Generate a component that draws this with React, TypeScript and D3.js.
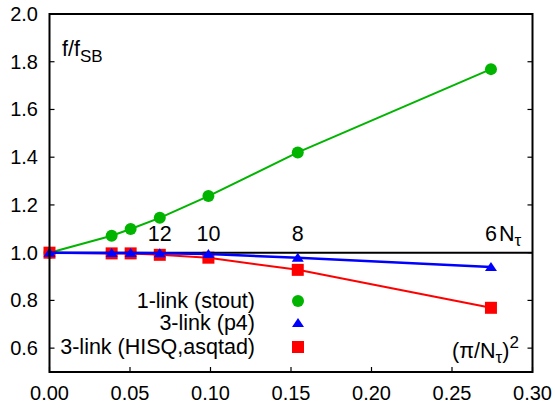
import React from "react";
import * as d3 from "d3";

const xs = [0, 0.0386, 0.0504, 0.0685, 0.0987, 0.1542, 0.2742];
const stout = [1.0, 1.071, 1.099, 1.146, 1.237, 1.42, 1.769];
const p4 = [1.0, 0.999, 0.999, 0.998, 0.994, 0.979, 0.94];
const hisq = [1.0, 0.997, 0.997, 0.991, 0.979, 0.928, 0.769];
const ntLabels = ["12", "10", "8", "6"];
const ntX = [0.0685, 0.0987, 0.1542, 0.2742];
const xTicks = [0, 0.05, 0.1, 0.15, 0.2, 0.25, 0.3];
const yTicks = [0.6, 0.8, 1.0, 1.2, 1.4, 1.6, 1.8, 2.0];
const legendLabels = ["1-link (stout)", "3-link (p4)", "3-link (HISQ,asqtad)"];

const W = 555, H = 405;
const L = 49.5, R = 532.5, T = 14, B = 372;
const FONT = "Liberation Sans, Arial, Helvetica, sans-serif";

export default function App() {
  const x = d3.scaleLinear().domain([0, 0.3]).range([L, R]);
  const y = d3.scaleLinear().domain([0.5, 2.0]).range([B, T]);
  const line = d3.line<number>().x((_, i) => x(xs[i])).y((d) => y(d));
  const GREEN = "#00b400", BLUE = "#0000ff", RED = "#ff0000";
  const tri = (cx: number, cy: number) =>
    `M${cx - 6},${cy + 4} L${cx + 6},${cy + 4} L${cx},${cy - 5} Z`;
  const legY = [301, 323, 347];
  const legX = 298;
  return (
    <svg width={W} height={H} style={{ position: "absolute", left: 0, top: 0 }} fontFamily={FONT}>
      <rect x={0} y={0} width={W} height={H} fill="#fff" />
      {/* ticks */}
      {xTicks.map((t) => (
        <g key={"xt" + t}>
          <line x1={x(t)} x2={x(t)} y1={B} y2={B - 5} stroke="#000" strokeWidth={1.2} />
          <text x={x(t)} y={400} fontSize={20} textAnchor="middle">{t.toFixed(2)}</text>
        </g>
      ))}
      {yTicks.map((t) => (
        <g key={"yt" + t}>
          <line x1={L} x2={L + 5} y1={y(t)} y2={y(t)} stroke="#000" strokeWidth={1.2} />
          <line x1={R} x2={R - 5} y1={y(t)} y2={y(t)} stroke="#000" strokeWidth={1.2} />
          <text x={38} y={y(t) + 7} fontSize={20} textAnchor="end">{t.toFixed(1)}</text>
        </g>
      ))}
      {/* green */}
      <path d={line(stout) || ""} fill="none" stroke={GREEN} strokeWidth={2} />
      {stout.map((v, i) => (
        <circle key={"g" + i} cx={x(xs[i])} cy={y(v)} r={6} fill={GREEN} />
      ))}
      {/* red */}
      <path d={line(hisq) || ""} fill="none" stroke={RED} strokeWidth={2} />
      {hisq.map((v, i) => (
        <rect key={"r" + i} x={x(xs[i]) - 6} y={y(v) - 6} width={12} height={12} fill={RED} />
      ))}
      {/* black reference line */}
      <line x1={L} x2={R} y1={y(1)} y2={y(1)} stroke="#000" strokeWidth={2} />
      {/* blue */}
      <path d={line(p4) || ""} fill="none" stroke={BLUE} strokeWidth={2.5} />
      {p4.map((v, i) => (
        <path key={"b" + i} d={tri(x(xs[i]), y(v))} fill={BLUE} />
      ))}
      {/* N_tau labels */}
      {ntLabels.map((s, i) => (
        <text key={"n" + i} x={x(ntX[i])} y={241} fontSize={21.5} textAnchor="middle">{s}</text>
      ))}
      <text x={499} y={241} fontSize={21.5}>
        N<tspan fontSize={17} dy={5}>τ</tspan>
      </text>
      {/* legend */}
      {legendLabels.map((s, i) => (
        <text key={"l" + i} x={255} y={legY[i] + 7} fontSize={21.5} textAnchor="end">{s}</text>
      ))}
      <circle cx={legX} cy={legY[0]} r={6} fill={GREEN} />
      <path d={tri(legX, legY[1])} fill={BLUE} />
      <rect x={legX - 6} y={legY[2] - 6} width={12} height={12} fill={RED} />
      {/* axis labels */}
      <text x={62} y={56} fontSize={21.5}>
        f/f<tspan fontSize={17} dy={6}>SB</tspan>
      </text>
      <text x={452} y={358} fontSize={21.5}>
        (π/N<tspan fontSize={17} dy={5}>τ</tspan><tspan dy={-5}>)</tspan><tspan fontSize={17} dy={-10}>2</tspan>
      </text>
      {/* frame */}
      <rect x={L} y={T} width={R - L} height={B - T} fill="none" stroke="#000" strokeWidth={2} />
    </svg>
  );
}
